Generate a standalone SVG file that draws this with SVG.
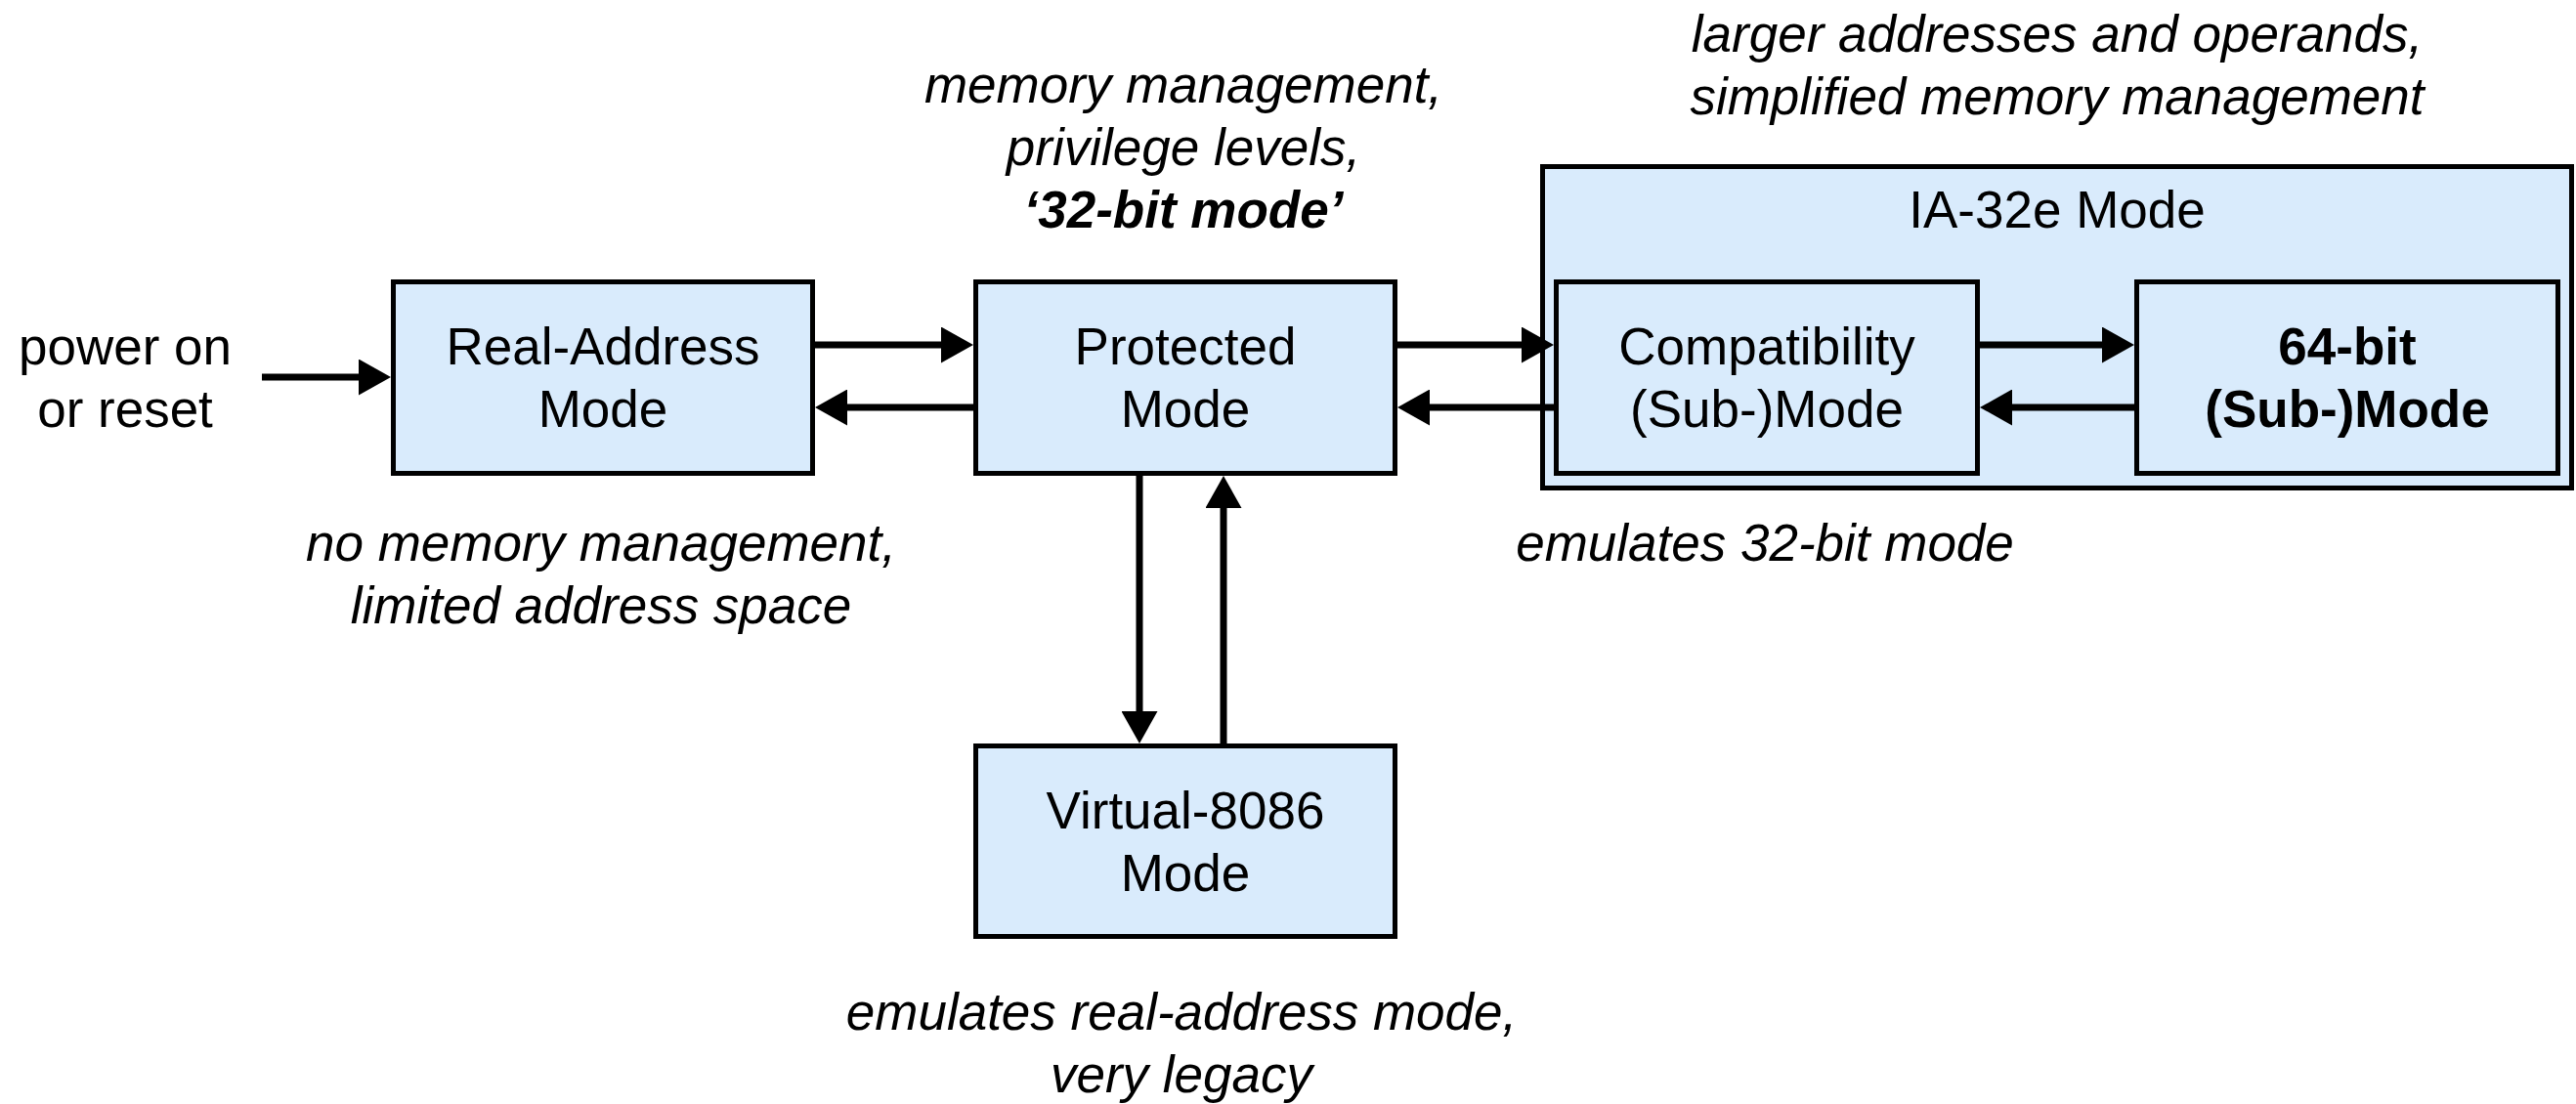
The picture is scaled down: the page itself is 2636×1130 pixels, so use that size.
<svg xmlns="http://www.w3.org/2000/svg" width="2636" height="1130" viewBox="0 0 2636 1130">
<style>
  .box { fill: #d9ebfc; stroke: #000; stroke-width: 5; }
  .t { font-family: "Liberation Sans", Arial, Helvetica, sans-serif; font-size: 53px; fill: #000; text-anchor: middle; }
  .i { font-style: italic; }
  .b { font-weight: bold; }
  .conn line { stroke: #000; stroke-width: 7; marker-end: url(#ah); }
</style>
<defs>
  <marker id="ah" markerUnits="userSpaceOnUse" markerWidth="33" markerHeight="37" refX="13" refY="18.5" orient="auto">
    <path d="M0,0 L33,18.5 L0,37 z" fill="#000"/>
  </marker>
</defs>
<rect width="2636" height="1130" fill="#fff"/>

<g id="ia32e">
  <rect class="box" x="1578.5" y="170.5" width="1053" height="329"/>
  <text class="t" x="2105" y="233">IA-32e Mode</text>
</g>

<g id="real">
  <rect class="box" x="402.5" y="288.5" width="429" height="196"/>
  <text class="t" x="617" y="373">Real-Address</text>
  <text class="t" x="617" y="437">Mode</text>
</g>

<g id="protected">
  <rect class="box" x="998.5" y="288.5" width="429" height="196"/>
  <text class="t" x="1213" y="373">Protected</text>
  <text class="t" x="1213" y="437">Mode</text>
</g>

<g id="virtual">
  <rect class="box" x="998.5" y="763.5" width="429" height="195"/>
  <text class="t" x="1213" y="848">Virtual-8086</text>
  <text class="t" x="1213" y="912">Mode</text>
</g>

<g id="compat">
  <rect class="box" x="1592.5" y="288.5" width="431" height="196"/>
  <text class="t" x="1808" y="373">Compatibility</text>
  <text class="t" x="1808" y="437">(Sub-)Mode</text>
</g>

<g id="bit64">
  <rect class="box" x="2186.5" y="288.5" width="431" height="196"/>
  <text class="t b" x="2402" y="373">64-bit</text>
  <text class="t b" x="2402" y="437">(Sub-)Mode</text>
</g>

<g id="labels">
  <text class="t" x="128" y="373">power on</text>
  <text class="t" x="128" y="437">or reset</text>
  <text class="t i" x="1211" y="105">memory management,</text>
  <text class="t i" x="1211" y="169">privilege levels,</text>
  <text class="t i b" x="1211" y="233">‘32-bit mode’</text>
  <text class="t i" x="2105" y="53">larger addresses and operands,</text>
  <text class="t i" x="2105" y="117">simplified memory management</text>
  <text class="t i" x="615" y="574">no memory management,</text>
  <text class="t i" x="615" y="638">limited address space</text>
  <text class="t i" x="1806" y="574">emulates 32-bit mode</text>
  <text class="t i" x="1209" y="1054">emulates real-address mode,</text>
  <text class="t i" x="1209" y="1118">very legacy</text>
</g>

<g id="connectors" class="conn">
  <line x1="268" y1="386" x2="380" y2="386"/>
  <line x1="834" y1="353" x2="976" y2="353"/>
  <line x1="996" y1="417" x2="854" y2="417"/>
  <line x1="1430" y1="353" x2="1570" y2="353"/>
  <line x1="1590" y1="417" x2="1450" y2="417"/>
  <line x1="2026" y1="353" x2="2164" y2="353"/>
  <line x1="2184" y1="417" x2="2046" y2="417"/>
  <line x1="1166" y1="487" x2="1166" y2="741"/>
  <line x1="1252" y1="761" x2="1252" y2="507"/>
</g>
</svg>
